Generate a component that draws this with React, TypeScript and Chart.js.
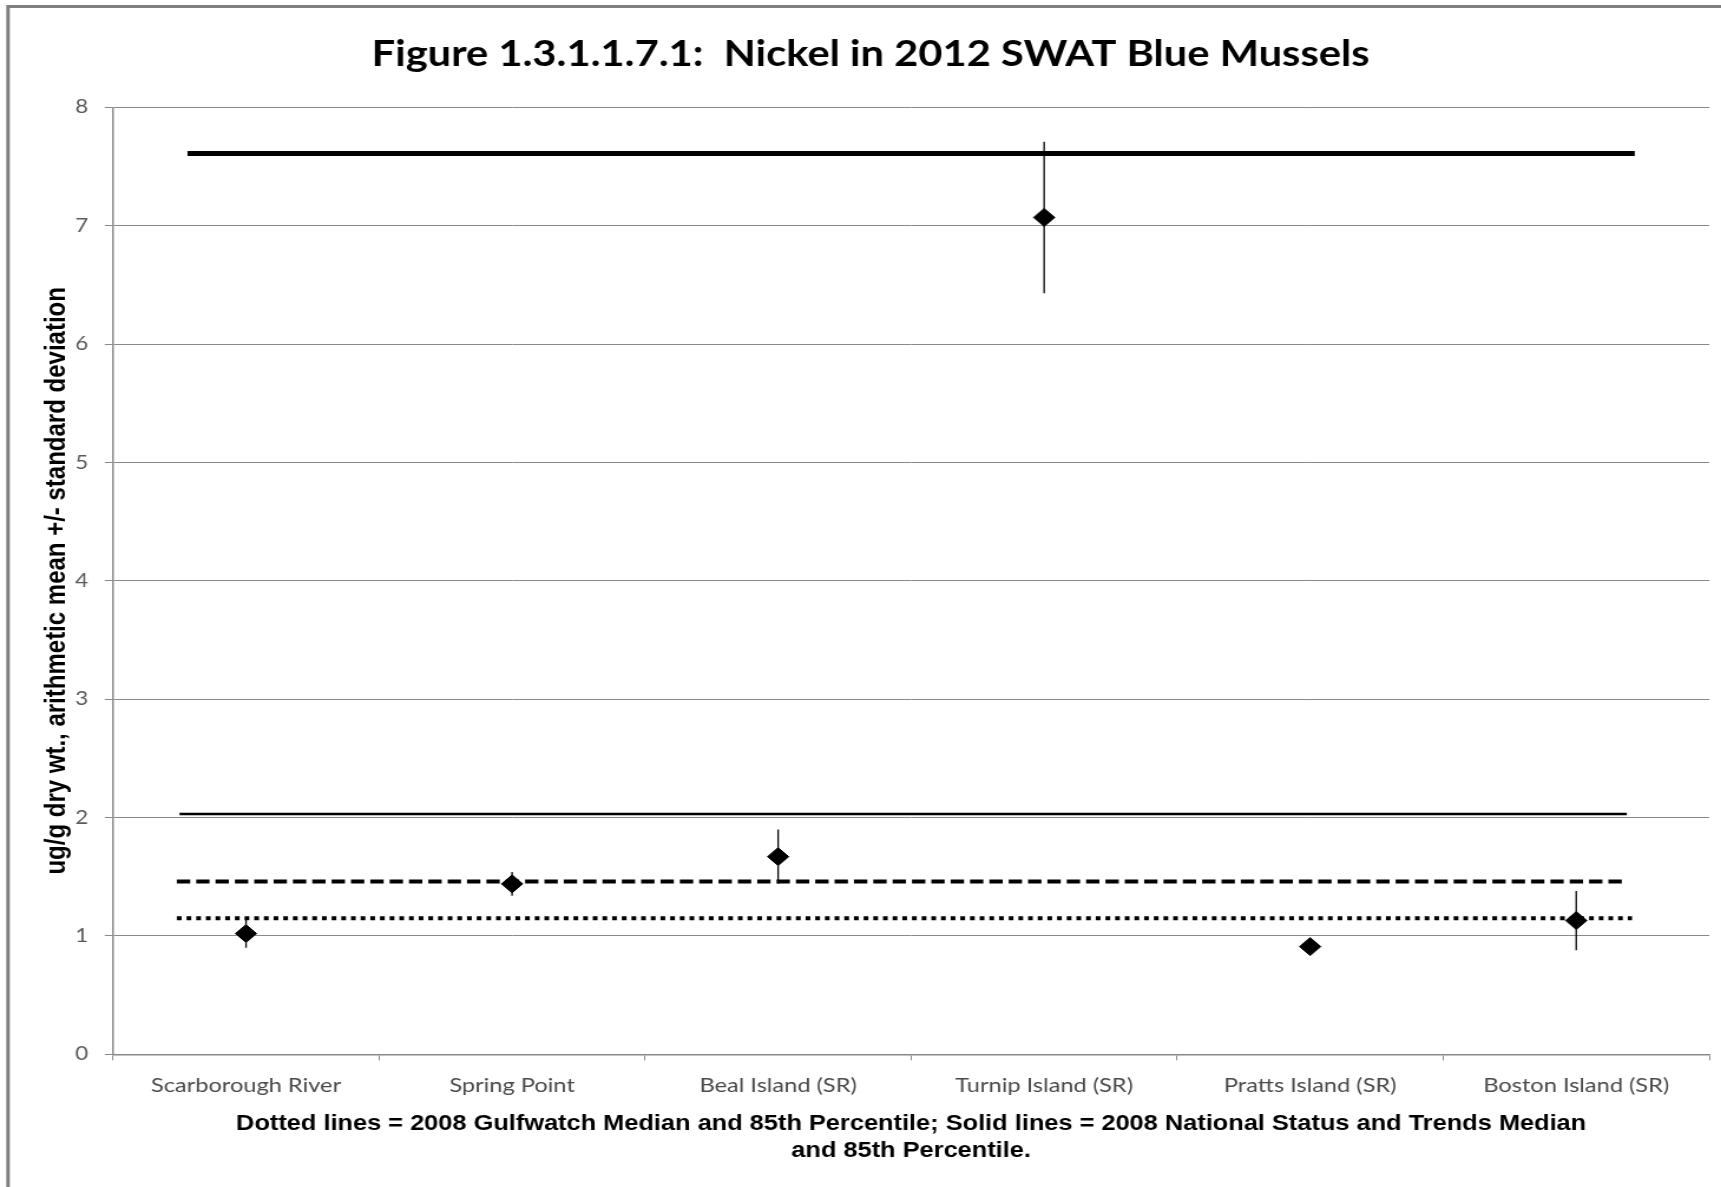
import React, { useEffect, useRef } from 'react';
import { Chart, registerables } from 'chart.js';

Chart.register(...registerables);

// ---- data ----
const categories = [
  'Scarborough River',
  'Spring Point',
  'Beal Island (SR)',
  'Turnip Island (SR)',
  'Pratts Island (SR)',
  'Boston Island (SR)',
];
const means = [1.02, 1.44, 1.67, 7.07, 0.91, 1.13];
const stdDevs = [0.12, 0.1, 0.23, 0.64, 0.05, 0.25];

const yTickValues = [0, 1, 2, 3, 4, 5, 6, 7, 8];

const refLineNames = ['NS&T 85th Percentile', 'NS&T Median', 'Gulfwatch 85th Percentile', 'Gulfwatch Median'];
const refLineValues = [7.61, 2.03, 1.46, 1.15];
const refLineStart = [-0.22, -0.25, -0.26, -0.26];
const refLineEnd = [5.22, 5.19, 5.19, 5.21];

const titleText = 'Figure 1.3.1.1.7.1:  Nickel in 2012 SWAT Blue Mussels';
const yTitle = 'ug/g dry wt., arithmetic mean +/- standard deviation';
const xTitle = [
  'Dotted lines = 2008 Gulfwatch Median and 85th Percentile; Solid lines = 2008 National Status and Trends Median',
  'and 85th Percentile.',
];

// ---- layout (canvas is stretched horizontally like the source image) ----
const OUT_W = 1721;
const OUT_H = 1187;
const STRETCH = 1.1796;
const CW = Math.round(OUT_W / STRETCH);

const refStyles = [
  { width: 5, dash: [] as number[] },
  { width: 2.5, dash: [] as number[] },
  { width: 4, dash: [11.3, 5.1] },
  { width: 4, dash: [4, 4.2] },
];

const framePlugin = {
  id: 'frame',
  beforeDraw(chart: any) {
    const { ctx, width, height } = chart;
    ctx.save();
    ctx.fillStyle = '#ffffff';
    ctx.fillRect(0, 0, width, height);
    ctx.strokeStyle = '#808080';
    ctx.lineWidth = 3;
    ctx.beginPath();
    ctx.moveTo(6.8, height);
    ctx.lineTo(6.8, 6.5);
    ctx.lineTo(width, 6.5);
    ctx.stroke();
    ctx.restore();
  },
};

export default function App() {
  const ref = useRef<HTMLCanvasElement | null>(null);

  useEffect(() => {
    if (!ref.current) return;

    const errorSets = means.map((m, i) => ({
      type: 'line' as const,
      label: 'sd ' + categories[i],
      xAxisID: 'xl',
      data: [
        { x: i, y: m - stdDevs[i] },
        { x: i, y: m + stdDevs[i] },
      ],
      borderColor: '#000000',
      borderWidth: 1.3,
      pointRadius: 0,
      fill: false,
    }));

    const refSets = refLineValues.map((v, i) => ({
      type: 'line' as const,
      label: refLineNames[i],
      xAxisID: 'xl',
      data: [
        { x: refLineStart[i], y: v },
        { x: refLineEnd[i], y: v },
      ],
      borderColor: '#000000',
      borderWidth: refStyles[i].width,
      borderDash: refStyles[i].dash,
      borderCapStyle: 'butt' as const,
      pointRadius: 0,
      fill: false,
    }));

    const chart = new Chart(ref.current, {
      type: 'line',
      data: {
        labels: categories,
        datasets: [
          {
            type: 'line',
            label: 'Mean',
            xAxisID: 'x',
            data: means,
            showLine: false,
            pointStyle: 'rectRot',
            pointRadius: 9,
            pointHoverRadius: 9,
            pointBackgroundColor: '#000000',
            pointBorderColor: '#000000',
            pointBorderWidth: 1,
          } as any,
          ...errorSets,
          ...refSets,
        ],
      },
      options: {
        animation: false,
        responsive: false,
        devicePixelRatio: 1,
        events: [],
        layout: { padding: { left: 27, right: 10, top: 23, bottom: 18.5 } },
        plugins: {
          legend: { display: false },
          tooltip: { enabled: false },
          title: {
            display: true,
            text: titleText,
            color: '#000000',
            font: { family: 'Lato, "Open Sans", sans-serif', size: 35.3, weight: 'bold', lineHeight: 1.2 },
            padding: { top: 10, bottom: 32 },
          },
        },
        scales: {
          x: {
            type: 'category',
            offset: true,
            grid: {
              display: true,
              offset: true,
              drawOnChartArea: false,
              drawTicks: true,
              tickLength: 6,
              color: '#8a8a8a',
            },
            border: { display: true, color: '#8a8a8a', width: 1.5 },
            ticks: {
              color: '#4a4a4a',
              padding: 13,
              maxRotation: 0,
              autoSkip: false,
              font: { family: 'Lato, "Open Sans", sans-serif', size: 20, lineHeight: 1.2 },
            },
            title: {
              display: true,
              text: xTitle,
              color: '#000000',
              font: { family: '"Liberation Sans", Arial, sans-serif', size: 21.5, weight: 'bold', lineHeight: 1.26 },
              padding: { top: 0, bottom: 4 },
            },
          },
          xl: {
            type: 'linear',
            display: false,
            min: -0.5,
            max: 5.5,
          },
          y: {
            type: 'linear',
            min: 0,
            max: 8,
            afterBuildTicks: (scale: any) => {
              scale.ticks = yTickValues.map((v) => ({ value: v }));
            },
            afterFit: (scale: any) => {
              scale.width = 68.8;
            },
            grid: {
              color: '#8a8a8a',
              lineWidth: 1,
              drawTicks: true,
              tickLength: 7,
            },
            border: { display: true, color: '#8a8a8a', width: 1.5 },
            ticks: {
              color: '#5a5a5a',
              padding: 14,
              font: { family: 'Lato, "Open Sans", sans-serif', size: 19 },
            },
            title: {
              display: true,
              text: yTitle,
              color: '#000000',
              font: { family: '"Liberation Sans", Arial, sans-serif', size: 24, weight: 'bold', lineHeight: 1.2 },
              padding: { top: 7, bottom: 4 },
            },
          },
        },
      },
      plugins: [framePlugin],
    });

    return () => chart.destroy();
  }, []);

  return (
    <div
      style={{
        position: 'fixed',
        left: 0,
        top: 0,
        width: OUT_W,
        height: OUT_H,
        overflow: 'hidden',
        background: '#ffffff',
      }}
    >
      <div style={{ width: CW, height: OUT_H, transform: `scaleX(${STRETCH})`, transformOrigin: '0 0' }}>
        <canvas ref={ref} width={CW} height={OUT_H} style={{ display: 'block' }} />
      </div>
    </div>
  );
}
